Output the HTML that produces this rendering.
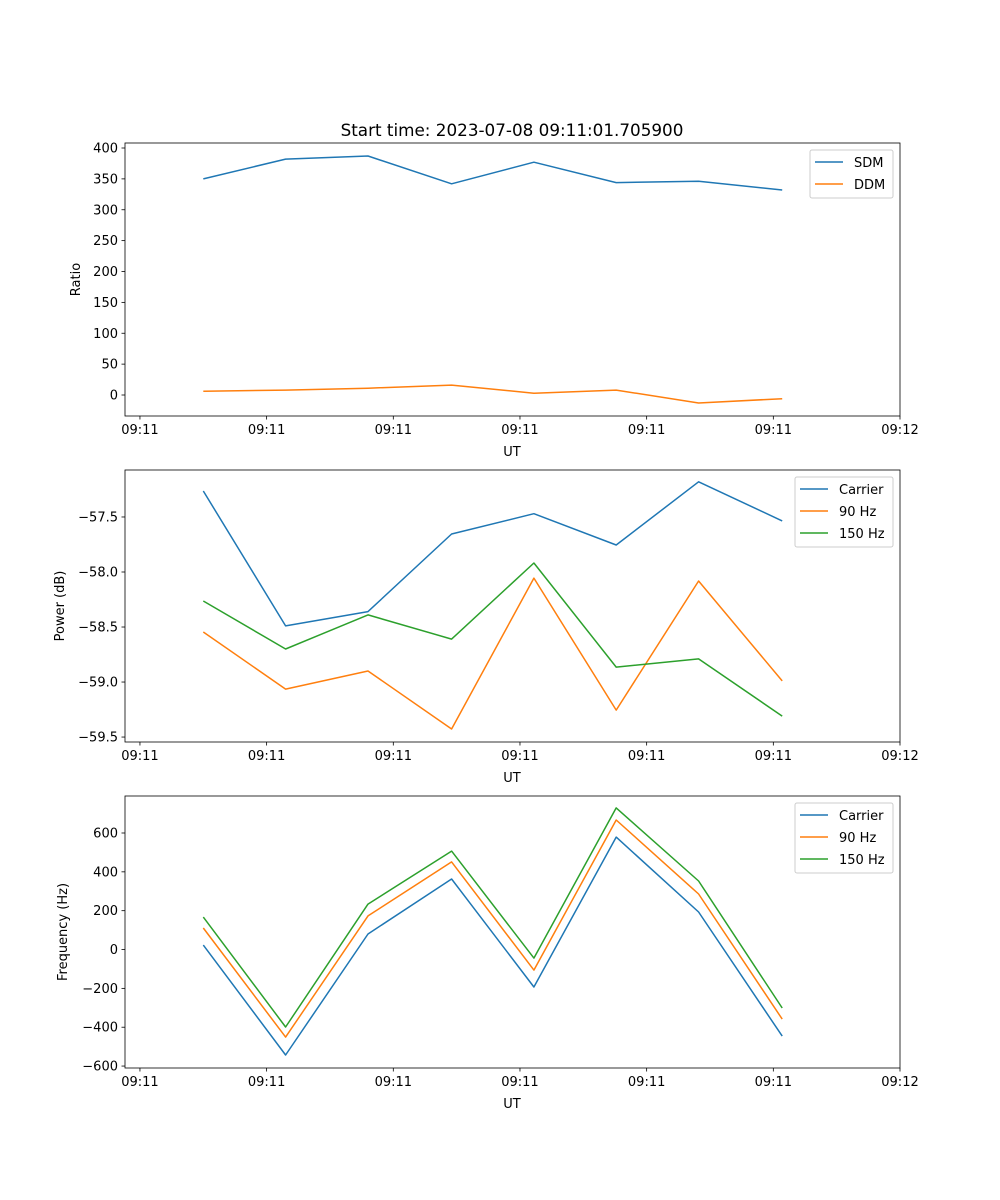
<!DOCTYPE html>
<html><head><meta charset="utf-8"><style>
body{margin:0;background:#fff}
svg{display:block;font-family:"DejaVu Sans","Liberation Sans",sans-serif}
</style></head><body>
<svg id="fig" width="1000" height="1200" viewBox="0 0 1000 1200" xmlns="http://www.w3.org/2000/svg">
<rect width="1000" height="1200" fill="#fff"/>
<text x="512" y="136" font-size="16.8" text-anchor="middle">Start time: 2023-07-08 09:11:01.705900</text>
</svg>
<script>
// shared x data (seconds after 09:11:00)
const times = [5.0, 11.5, 18.0, 24.6, 31.1, 37.6, 44.1, 50.7];
const xTicks = [0, 10, 20, 30, 40, 50, 60];
const xTickLabels = ["09:11","09:11","09:11","09:11","09:11","09:11","09:12"];
// panel 1
const sdm = [350, 382, 387, 342, 377, 344, 346, 332];
const ddm = [6, 8, 11, 16, 3, 8, -13, -6];
const ratioTicks = [0, 50, 100, 150, 200, 250, 300, 350, 400];
// panel 2
const powCarrier = [-57.264, -58.49, -58.36, -57.655, -57.47, -57.755, -57.18, -57.536];
const pow90 = [-58.545, -59.064, -58.9, -59.427, -58.055, -59.255, -58.082, -58.99];
const pow150 = [-58.264, -58.7, -58.39, -58.61, -57.918, -58.864, -58.79, -59.31];
const powTicks = [-59.5, -59.0, -58.5, -58.0, -57.5];
const powTickLabels = ["\u221259.5","\u221259.0","\u221258.5","\u221258.0","\u221257.5"];
// panel 3
const freqCarrier = [23, -543, 80, 363, -193, 579, 193, -446];
const freq90 = [111, -451, 173, 451, -106, 667, 286, -358];
const freq150 = [167, -399, 234, 507, -44, 729, 353, -301];
const freqTicks = [-600, -400, -200, 0, 200, 400, 600];
const freqTickLabels = ["\u2212600","\u2212400","\u2212200","0","200","400","600"];

const NS = "http://www.w3.org/2000/svg";
const svg = document.getElementById("fig");
function mk(tag, attrs, parent){const e=document.createElementNS(NS,tag);for(const k in attrs)e.setAttribute(k,attrs[k]);(parent||svg).appendChild(e);return e;}
const X0=125,X1=900,XMIN=-1.18,XMAX=60.0;
function xs(v){return X0+(v-XMIN)/(XMAX-XMIN)*(X1-X0);}

function panel(p){
  const g=mk("g",{});
  
  
  const ys=v=>p.bot-(v-p.ymin)/(p.ymax-p.ymin)*(p.bot-p.top);
  p.series.forEach(s=>{
    const pts=s.vals.map((v,i)=>xs(times[i]).toFixed(1)+","+ys(v).toFixed(1)).join(" ");
    const l=mk("polyline",{points:pts,fill:"none",stroke:s.color,"stroke-width":"1.5","stroke-linejoin":"round"},g);
    
    
  });
  const fr=mk("rect",{x:X0,y:p.top,width:X1-X0,height:p.bot-p.top,fill:"none",stroke:"#000","stroke-width":"0.8"},g);
  
  
  xTicks.forEach((t,i)=>{
    const x=xs(t);
    mk("line",{x1:x,x2:x,y1:p.bot,y2:p.bot+3.5,stroke:"#000","stroke-width":"0.8"},g);
    const tx=mk("text",{x:x,y:p.bot+18,"font-size":"13","text-anchor":"middle"},g);
    tx.textContent=xTickLabels[i];
    
    
  });
  const xl=mk("text",{x:512,y:p.bot+40,"font-size":"13","text-anchor":"middle"},g);
  xl.textContent="UT";
  
  
  p.yTicks.forEach((t,i)=>{
    const y=ys(t);
    mk("line",{x1:X0-3.5,x2:X0,y1:y,y2:y,stroke:"#000","stroke-width":"0.8"},g);
    const tx=mk("text",{x:X0-7,y:y+4.5,"font-size":"13","text-anchor":"end"},g);
    tx.textContent=p.yLabels?p.yLabels[i]:String(t);
    
    
  });
  const cy=(p.top+p.bot)/2;
  const yl=mk("text",{x:0,y:0,"font-size":"13","text-anchor":"middle",transform:`translate(${p.ylx},${cy}) rotate(-90)`},g);
  yl.textContent=p.ylabel;
  
  
  // legend
  const lg=mk("g",{},g);
  
  
  const h=p.series.length*22+4;
  mk("rect",{x:p.lx,y:p.top+7,width:893-p.lx,height:h,fill:"#fff",stroke:"#ccc",rx:"2"},lg);
  p.series.forEach((s,i)=>{
    const y=p.top+19+i*22;
    const e=mk("g",{},lg);
    
    
    mk("line",{x1:p.lx+5,x2:p.lx+33,y1:y,y2:y,stroke:s.color,"stroke-width":"1.5"},e);
    const t=mk("text",{x:p.lx+44,y:y+5,"font-size":"13"},e);
    t.textContent=s.label;
  });
}
const C1="#1f77b4",C2="#ff7f0e",C3="#2ca02c";
panel({name:"ratio-panel",top:143,bot:416,ymin:-34,ymax:408.1,yTicks:ratioTicks,ylabel:"Ratio",ylx:80,lx:810,
  series:[{id:"sdm-line",label:"SDM",vals:sdm,color:C1},{id:"ddm-line",label:"DDM",vals:ddm,color:C2}]});
panel({name:"power-panel",top:470,bot:742,ymin:-59.545,ymax:-57.073,yTicks:powTicks,yLabels:powTickLabels,ylabel:"Power (dB)",ylx:64,lx:795,
  series:[{id:"power-carrier-line",label:"Carrier",vals:powCarrier,color:C1},{id:"power-90hz-line",label:"90 Hz",vals:pow90,color:C2},{id:"power-150hz-line",label:"150 Hz",vals:pow150,color:C3}]});
panel({name:"frequency-panel",top:796,bot:1068,ymin:-610,ymax:790.5,yTicks:freqTicks,yLabels:freqTickLabels,ylabel:"Frequency (Hz)",ylx:67,lx:795,
  series:[{id:"freq-carrier-line",label:"Carrier",vals:freqCarrier,color:C1},{id:"freq-90hz-line",label:"90 Hz",vals:freq90,color:C2},{id:"freq-150hz-line",label:"150 Hz",vals:freq150,color:C3}]});
</script>
</body></html>
